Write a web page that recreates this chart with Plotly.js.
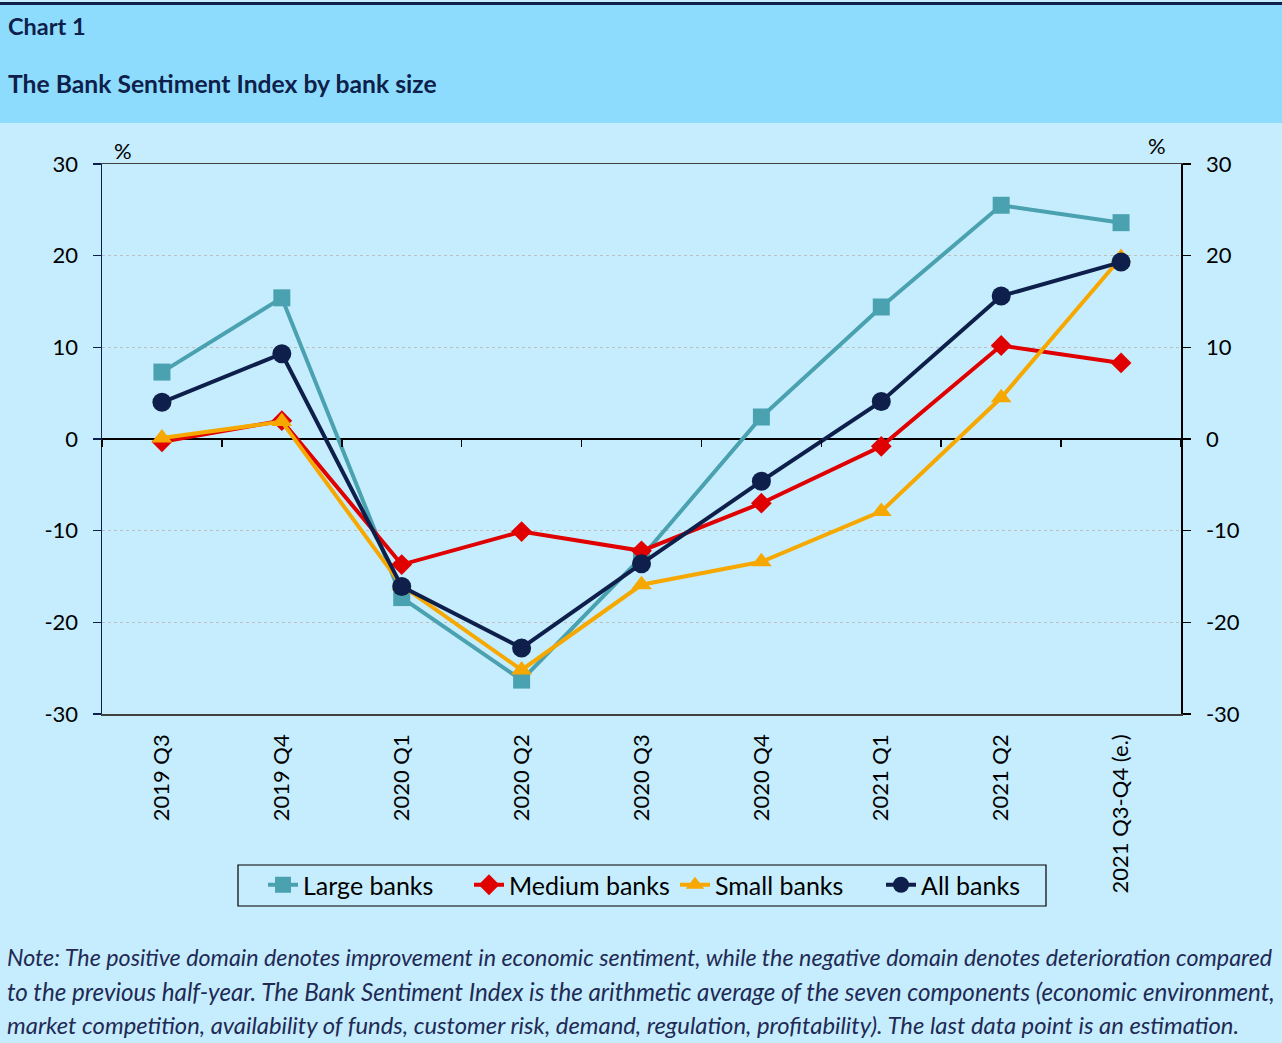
<!DOCTYPE html>
<html>
<head>
<meta charset="utf-8">
<script src="https://cdn.plot.ly/plotly-3.0.1.min.js"></script>
<style>
html,body{margin:0;padding:0;background:#C6EDFD;}
#chart{width:1282px;height:1043px;}
</style>
</head>
<body>
<div id="chart"></div>
<script>
// ---- data ----
const categories = ["2019 Q3","2019 Q4","2020 Q1","2020 Q2","2020 Q3","2020 Q4","2021 Q1","2021 Q2","2021 Q3-Q4 (e.)"];
const largeBanks  = [7.3, 15.4, -17.3, -26.3, -12.9, 2.4, 14.4, 25.5, 23.6];
const mediumBanks = [-0.3, 2.0, -13.7, -10.1, -12.2, -7.0, -0.8, 10.2, 8.3];
const smallBanks  = [0.1, 1.9, -16.0, -25.2, -15.9, -13.4, -7.9, 4.5, 19.8];
const allBanks    = [4.0, 9.3, -16.1, -22.8, -13.6, -4.6, 4.1, 15.6, 19.3];
const seriesNames = ["Large banks","Medium banks","Small banks","All banks"];
const yTicks = [-30,-20,-10,0,10,20,30];
const yTickText = ["-30","-20","-10","0","10","20","30"];

// ---- layout helpers (pixel -> paper) ----
const L=102, R=1181, T=164, B=714, W=1282, H=1043;
const xp = px => (px-L)/(R-L);
const yp = py => (B-py)/(B-T);

const FONT = "Lato, 'Open Sans', sans-serif";
const NAVY = "#0D1F4A";
const NOTE = "#1F2A55";
const catIdx = categories.map((c,i)=>i);

const styles = [
  {color:"#4AA1B0", symbol:"square", size:17, width:4},
  {color:"#E00000", symbol:"diamond", size:16, width:4},
  {color:"#F7A800", symbol:"triangle-up", size:18, width:4},
  {color:NAVY, symbol:"circle", size:19, width:4}
];
const values = [largeBanks, mediumBanks, smallBanks, allBanks];

const traces = values.map((v,i)=>({
  x: catIdx, y: v, name: seriesNames[i], type:"scatter", mode:"lines+markers",
  line:{color:styles[i].color, width:styles[i].width},
  marker:{color:styles[i].color, symbol:styles[i].symbol, size:styles[i].size},
  cliponaxis:false
}));
// dummy traces to render secondary axes
traces.push({x:[null], y:[null], xaxis:"x2", yaxis:"y", showlegend:false, hoverinfo:"skip", type:"scatter"});
traces.push({x:[null], y:[null], xaxis:"x", yaxis:"y2", showlegend:false, hoverinfo:"skip", type:"scatter"});

const tickFont = {family:FONT, size:22, color:"#000"};

function note(text, py, size){
  return {xref:"paper", yref:"paper", x:xp(6), y:yp(py), xanchor:"left", yanchor:"middle", showarrow:false,
    borderpad:0, text:"<i>"+text+"</i>", font:{family:FONT, size:size, color:NOTE}};
}

const layout = {
  width:W, height:H,
  margin:{l:L, r:W-R, t:T, b:H-B, pad:0},
  paper_bgcolor:"#C6EDFD",
  plot_bgcolor:"rgba(0,0,0,0)",
  showlegend:true,
  xaxis:{
    range:[-0.5, 8.5], tickmode:"array", tickvals:catIdx, ticktext:categories,
    tickangle:-90, tickfont:tickFont, ticks:"", ticklabelstandoff:10,
    showline:true, linecolor:"#404040", linewidth:1.5, mirror:true,
    showgrid:false, zeroline:false, fixedrange:true
  },
  xaxis2:{
    overlaying:"x", anchor:"free", position:0.5, range:[-0.5,8.5],
    tickmode:"array", tickvals:[-0.5,0.5,1.5,2.5,3.5,4.5,5.5,6.5,7.5,8.5],
    ticks:"outside", ticklen:7, tickwidth:1.5, tickcolor:"#000",
    showticklabels:false, showline:false, showgrid:false, zeroline:false
  },
  yaxis:{
    range:[-30,30], tickmode:"array", tickvals:yTicks, ticktext:yTickText, tickfont:tickFont,
    ticks:"outside", ticklen:8, tickwidth:1.5, tickcolor:NAVY, ticklabelstandoff:10,
    showline:true, linecolor:NAVY, linewidth:1.5,
    showgrid:true, gridcolor:"#BFBFBF", griddash:"dot", gridwidth:1,
    zeroline:true, zerolinecolor:"#000", zerolinewidth:1.5, fixedrange:true
  },
  yaxis2:{
    overlaying:"y", side:"right", anchor:"x", range:[-30,30], tickmode:"array", tickvals:yTicks, ticktext:yTickText, tickfont:tickFont,
    ticks:"outside", ticklen:8, tickwidth:1.5, tickcolor:"#000", ticklabelstandoff:11,
    showline:true, linecolor:"#000", linewidth:1.5, showgrid:false, zeroline:false
  },
  legend:{
    orientation:"h", x:xp(263), y:yp(862), xanchor:"left", yanchor:"top",
    bgcolor:"rgba(0,0,0,0)", borderwidth:0,
    font:{family:FONT, size:25, color:"#000"}, itemwidth:30, tracegroupgap:0,
    entrywidth:161, entrywidthmode:"pixels"
  },
  shapes:[
    {type:"rect", xref:"paper", yref:"paper", x0:xp(0), x1:xp(W), y0:yp(123), y1:yp(5), fillcolor:"#8DDCFE", line:{width:0}, layer:"below"},
    {type:"rect", xref:"paper", yref:"paper", x0:xp(0), x1:xp(W), y0:yp(5), y1:yp(2), fillcolor:NAVY, line:{width:0}, layer:"below"},
    {type:"rect", xref:"paper", yref:"paper", x0:xp(238), x1:xp(1046), y0:yp(906), y1:yp(865), fillcolor:"rgba(0,0,0,0)", line:{color:"#000", width:1.2}, layer:"above"}
  ],
  annotations:[
    {xref:"paper", yref:"paper", x:xp(7), y:yp(26), xanchor:"left", yanchor:"middle", showarrow:false, borderpad:0,
     text:"<b>Chart 1</b>", font:{family:FONT, size:23.5, color:NAVY}},
    {xref:"paper", yref:"paper", x:xp(7), y:yp(83), xanchor:"left", yanchor:"middle", showarrow:false, borderpad:0,
     text:"<b>The Bank Sentiment Index by bank size</b>", font:{family:FONT, size:24.7, color:NAVY}},
    {xref:"paper", yref:"paper", x:xp(112), y:yp(150), xanchor:"left", yanchor:"middle", showarrow:false,
     text:"%", font:tickFont},
    {xref:"paper", yref:"paper", x:xp(1168), y:yp(145), xanchor:"right", yanchor:"middle", showarrow:false,
     text:"%", font:tickFont},
    note("Note: The positive domain denotes improvement in economic sentiment, while the negative domain denotes deterioration compared", 957, 23.3),
    note("to the previous half-year. The Bank Sentiment Index is the arithmetic average of the seven components (economic environment,", 991, 24.2),
    note("market competition, availability of funds, customer risk, demand, regulation, profitability). The last data point is an estimation.", 1025, 23.8)
  ]
};

Plotly.newPlot("chart", traces, layout, {displayModeBar:false, staticPlot:true});
</script>
</body>
</html>
